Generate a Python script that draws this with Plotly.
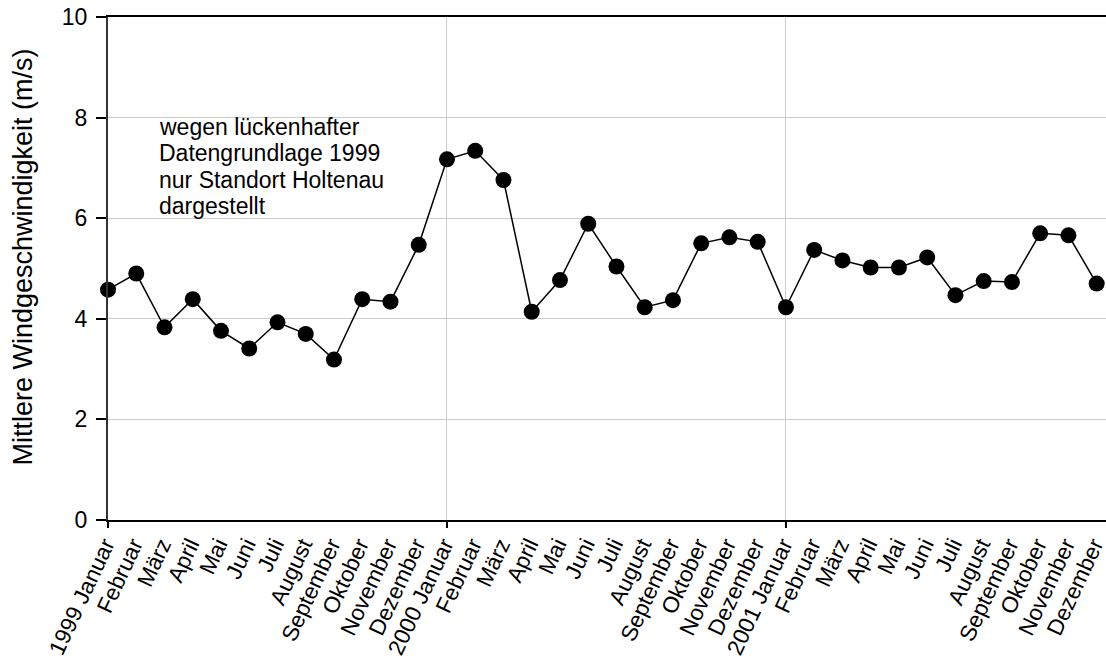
import plotly.graph_objects as go

months = ["Januar", "Februar", "März", "April", "Mai", "Juni", "Juli",
          "August", "September", "Oktober", "November", "Dezember"]
years = ["1999", "2000", "2001"]
tick_labels = []
for yr in years:
    for i, m in enumerate(months):
        tick_labels.append(f"{yr} {m}" if i == 0 else m)

wind_1999 = [4.58, 4.90, 3.83, 4.39, 3.76, 3.41, 3.93, 3.70, 3.19, 4.39, 4.34, 5.47]
wind_2000 = [7.17, 7.34, 6.76, 4.14, 4.77, 5.89, 5.04, 4.23, 4.37, 5.50, 5.62, 5.53]
wind_2001 = [4.23, 5.37, 5.16, 5.02, 5.02, 5.22, 4.47, 4.75, 4.73, 5.70, 5.66, 4.70]
values = wind_1999 + wind_2000 + wind_2001
x_idx = list(range(len(values)))
year_starts = [0, 12, 24]

y_title = "Mittlere Windgeschwindigkeit (m/s)"
note_lines = ["wegen lückenhafter", "Datengrundlage 1999",
              "nur Standort Holtenau", "dargestellt"]

FONT = "Liberation Sans, Arial, sans-serif"
x_range = [0, 35.33]

fig = go.Figure()
fig.add_trace(go.Scatter(
    x=x_idx, y=values, mode="lines+markers",
    line=dict(color="black", width=1.5),
    marker=dict(color="black", size=16),
    cliponaxis=False, showlegend=False, hoverinfo="skip",
))
# helper trace so the year-start axis (ticks + vertical grid) is drawn
fig.add_trace(go.Scatter(
    x=year_starts, y=[None] * len(year_starts), xaxis="x2", mode="markers",
    showlegend=False, hoverinfo="skip",
))

annotations = [
    dict(text=y_title, xref="paper", yref="paper", x=-0.085, y=0.522,
         textangle=-90, showarrow=False, xanchor="center", yanchor="middle",
         font=dict(size=27, family=FONT, color="black")),
]
for i, line in enumerate(note_lines):
    annotations.append(dict(
        text=line, xref="x", yref="y", x=1.72, y=7.81 - 0.523 * i,
        xanchor="left", yanchor="middle", showarrow=False,
        font=dict(size=23, family=FONT, color="black")))

fig.update_layout(
    width=1106, height=666,
    margin=dict(l=108, r=0, t=17, b=146, autoexpand=False),
    plot_bgcolor="white", paper_bgcolor="white",
    font=dict(family=FONT, color="black", size=23),
    xaxis=dict(
        range=x_range, tickmode="array", tickvals=x_idx, ticktext=tick_labels,
        tickangle=-65, ticks="", showgrid=False, zeroline=False,
        showline=True, linecolor="black", linewidth=1.5, mirror=True,
        tickfont=dict(size=22.5, family=FONT, color="black"),
        ticklabeloverflow="allow", ticklabelshift=-3, ticklabelstandoff=1,
        automargin=False,
    ),
    xaxis2=dict(
        overlaying="x", anchor="y", side="bottom", range=x_range,
        tickmode="array", tickvals=year_starts, showticklabels=False,
        ticks="outside", ticklen=7, tickwidth=1.5, tickcolor="black",
        showgrid=True, gridcolor="#cccccc", gridwidth=1.3, zeroline=False,
        showline=False, automargin=False,
    ),
    yaxis=dict(
        range=[0, 10], tickmode="array", tickvals=[0, 2, 4, 6, 8, 10],
        ticks="outside", ticklen=10, tickwidth=1.5, tickcolor="black",
        showgrid=True, gridcolor="#cccccc", gridwidth=1.3, zeroline=False,
        showline=True, linecolor="#333333", linewidth=2,
        tickfont=dict(size=23, family=FONT, color="black"),
        ticklabeloverflow="allow", ticklabelstandoff=4, automargin=False,
    ),
    annotations=annotations,
)

# remove the default page margin so the figure fills the window exactly
fig.write_html("out.html",
               config={"displayModeBar": False},
               post_script="document.body.style.margin='0';"
                           "document.body.style.overflow='hidden';")
